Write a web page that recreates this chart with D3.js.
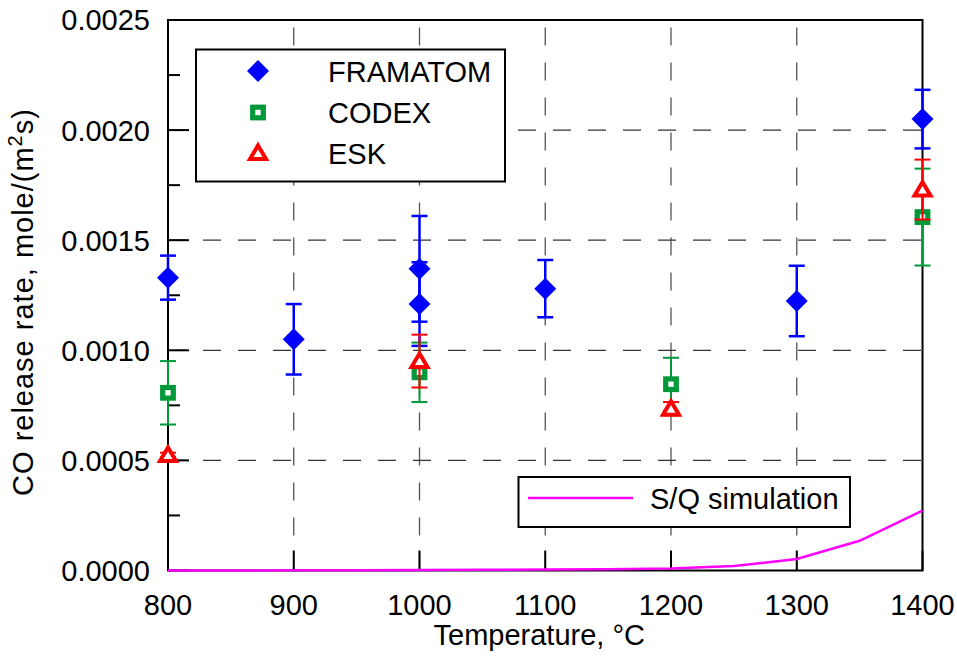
<!DOCTYPE html>
<html>
<head>
<meta charset="utf-8">
<script src="https://cdn.jsdelivr.net/npm/d3@7"></script>
<style>
  body { margin: 0; background: #fff; }
  text { font-family: "Liberation Sans", Arial, sans-serif; }
</style>
</head>
<body>
<div id="chart"></div>
<script>
// values
var xTicks = [800, 900, 1000, 1100, 1200, 1300, 1400];
var yTicks = [0, 0.0005, 0.0010, 0.0015, 0.0020, 0.0025];
var yMinor = [0.00025, 0.00075, 0.00125, 0.00175, 0.00225];

var framatomT = [800, 900, 1000, 1000, 1100, 1300, 1400];
var framatomVal = [0.00133, 0.00105, 0.00137, 0.00121, 0.00128, 0.001224, 0.00205];
var framatomErr = [0.0001, 0.00016, 0.00024, 0.00019, 0.00013, 0.00016, 0.000133];

var codexT = [800, 1000, 1200, 1400];
var codexVal = [0.000807, 0.0009, 0.000846, 0.001605];
var codexErr = [0.000144, 0.000135, 0.00012, 0.00022];

var eskT = [800, 1000, 1200, 1400];
var eskVal = [0.000525, 0.000951, 0.000735, 0.00173];
var eskErr = [0.00001, 0.00012, 0.00003, 0.000136];

var simT = [800, 850, 900, 950, 1000, 1050, 1100, 1150, 1200, 1250, 1300, 1350, 1400];
var simVal = [0, 0, 0.000001, 0.000001, 0.000002, 0.000003, 0.000004, 0.000006, 0.000009, 0.00002, 0.000052, 0.000135, 0.000272];

var W = 957, H = 658;
var pLeft = 168, pRight = 922.5, pTop = 20, pBottom = 570.5;

var svg = d3.select("#chart")
    .append("svg")
    .attr("width", W)
    .attr("height", H);

var x = d3.scaleLinear().domain([800, 1400]).range([pLeft, pRight]);
var y = d3.scaleLinear().domain([0, 0.0025]).range([pBottom, pTop]);

// dashed grid
svg.append("g")
    .selectAll("line")
    .data(xTicks.slice(1, -1))
    .enter()
    .append("line")
    .attr("x1", function (d) { return x(d); })
    .attr("x2", function (d) { return x(d); })
    .attr("y1", pBottom)
    .attr("y2", pTop)
    .attr("stroke", "#555")
    .attr("stroke-width", 1.3)
    .style("stroke-dasharray", "18,17");

svg.append("g")
    .selectAll("line")
    .data(yTicks.slice(1, -1))
    .enter()
    .append("line")
    .attr("x1", pLeft)
    .attr("x2", pRight)
    .attr("y1", function (d) { return y(d); })
    .attr("y2", function (d) { return y(d); })
    .attr("stroke", "#333")
    .attr("stroke-width", 1.3)
    .style("stroke-dasharray", "18,17");

// ticks pointing inward
svg.append("g")
    .selectAll("line")
    .data(yTicks)
    .enter()
    .append("line")
    .attr("x1", pLeft)
    .attr("x2", pLeft + 21)
    .attr("y1", function (d) { return y(d); })
    .attr("y2", function (d) { return y(d); })
    .attr("stroke", "#000")
    .attr("stroke-width", 2);

svg.append("g")
    .selectAll("line")
    .data(yMinor)
    .enter()
    .append("line")
    .attr("x1", pLeft)
    .attr("x2", pLeft + 12)
    .attr("y1", function (d) { return y(d); })
    .attr("y2", function (d) { return y(d); })
    .attr("stroke", "#000")
    .attr("stroke-width", 2);

svg.append("g")
    .selectAll("line")
    .data(xTicks)
    .enter()
    .append("line")
    .attr("x1", function (d) { return x(d); })
    .attr("x2", function (d) { return x(d); })
    .attr("y1", pBottom)
    .attr("y2", pBottom - 20)
    .attr("stroke", "#000")
    .attr("stroke-width", 2);

// frame
svg.append("rect")
    .attr("x", pLeft)
    .attr("y", pTop)
    .attr("width", pRight - pLeft)
    .attr("height", pBottom - pTop)
    .attr("fill", "none")
    .attr("stroke", "#000")
    .attr("stroke-width", 2);

// tick labels
svg.append("g")
    .selectAll("text")
    .data(yTicks)
    .enter()
    .append("text")
    .attr("x", 150)
    .attr("y", function (d) { return y(d); })
    .attr("dy", "0.36em")
    .attr("text-anchor", "end")
    .style("font-size", "29px")
    .text(function (d) { return d3.format(".4f")(d); });

svg.append("g")
    .selectAll("text")
    .data(xTicks)
    .enter()
    .append("text")
    .attr("x", function (d) { return x(d); })
    .attr("y", 615)
    .attr("text-anchor", "middle")
    .style("font-size", "29px")
    .text(function (d) { return d; });

// axis titles
svg.append("text")
    .attr("x", (pLeft + pRight) / 2 - 6)
    .attr("y", 645)
    .attr("text-anchor", "middle")
    .style("font-size", "29px")
    .text("Temperature, \u00B0C");

var ytitle = svg.append("text")
    .attr("transform", "translate(33,302) rotate(-90)")
    .attr("text-anchor", "middle")
    .style("font-size", "29px")
    .style("letter-spacing", "1px");
ytitle.append("tspan").text("CO release rate, mole/(m");
ytitle.append("tspan").attr("dy", -11).style("font-size", "20px").text("2");
ytitle.append("tspan").attr("dy", 11).text("s)");

// legend boxes (white, cover grid)
svg.append("rect")
    .attr("x", 196).attr("y", 49.5)
    .attr("width", 309).attr("height", 132)
    .attr("fill", "#fff").attr("stroke", "#000").attr("stroke-width", 2);

svg.append("rect")
    .attr("x", 518.5).attr("y", 477)
    .attr("width", 331.5).attr("height", 50)
    .attr("fill", "#fff").attr("stroke", "#000").attr("stroke-width", 2);

// marker helpers
function diamond(g, cx, cy) {
    g.append("path")
        .attr("d", "M" + cx + "," + (cy - 11) + "L" + (cx + 11) + "," + cy + "L" + cx + "," + (cy + 11) + "L" + (cx - 11) + "," + cy + "Z")
        .attr("fill", "#0000ff");
}
function square(g, cx, cy) {
    g.append("rect")
        .attr("x", cx - 5.3).attr("y", cy - 5.3)
        .attr("width", 10.6).attr("height", 10.6)
        .attr("fill", "#fff").attr("stroke", "#00993a").attr("stroke-width", 5.2);
}
function triangle(g, cx, cy) {
    g.append("path")
        .attr("d", "M" + cx + "," + (cy - 7.5) + "L" + (cx + 8) + "," + (cy + 6) + "L" + (cx - 8) + "," + (cy + 6) + "Z")
        .attr("fill", "#fff").attr("stroke", "#ff0000").attr("stroke-width", 4)
        .attr("stroke-linejoin", "miter");
}

function errorBars(ts, vals, errs, color, sw) {
    var g = svg.append("g")
        .attr("stroke", color)
        .attr("stroke-width", sw);
    g.selectAll(".v")
        .data(ts)
        .enter()
        .append("line")
        .attr("x1", function (d) { return x(d); })
        .attr("x2", function (d) { return x(d); })
        .attr("y1", function (d, i) { return y(vals[i] + errs[i]); })
        .attr("y2", function (d, i) { return y(vals[i] - errs[i]); });
    g.selectAll(".top")
        .data(ts)
        .enter()
        .append("line")
        .attr("x1", function (d) { return x(d) - 8; })
        .attr("x2", function (d) { return x(d) + 8; })
        .attr("y1", function (d, i) { return y(vals[i] + errs[i]); })
        .attr("y2", function (d, i) { return y(vals[i] + errs[i]); });
    g.selectAll(".bot")
        .data(ts)
        .enter()
        .append("line")
        .attr("x1", function (d) { return x(d) - 8; })
        .attr("x2", function (d) { return x(d) + 8; })
        .attr("y1", function (d, i) { return y(vals[i] - errs[i]); })
        .attr("y2", function (d, i) { return y(vals[i] - errs[i]); });
}

// FRAMATOM
errorBars(framatomT, framatomVal, framatomErr, "#0000ff", 2.5);
var gF = svg.append("g");
framatomT.forEach(function (t, i) { diamond(gF, x(t), y(framatomVal[i])); });

// CODEX
errorBars(codexT, codexVal, codexErr, "#00993a", 2);
var gC = svg.append("g");
codexT.forEach(function (t, i) { square(gC, x(t), y(codexVal[i])); });

// ESK
errorBars(eskT, eskVal, eskErr, "#ff0000", 2);
var gE = svg.append("g");
eskT.forEach(function (t, i) { triangle(gE, x(t), y(eskVal[i])); });

// S/Q simulation
var simLine = d3.line()
    .x(function (d, i) { return x(simT[i]); })
    .y(function (d) { return y(d); });

svg.append("path")
    .datum(simVal)
    .attr("d", simLine)
    .attr("fill", "none")
    .attr("stroke", "#ff00ff")
    .attr("stroke-width", 2.5);

// legend entries
var gL = svg.append("g");
diamond(gL, 258, 71);
square(gL, 258, 112.5);
triangle(gL, 258, 153);

var legendNames = ["FRAMATOM", "CODEX", "ESK"];
svg.append("g")
    .selectAll("text")
    .data(legendNames)
    .enter()
    .append("text")
    .attr("x", 328)
    .attr("y", function (d, i) { return 71 + i * 41 + 10.5; })
    .style("font-size", "29px")
    .text(function (d) { return d; });

svg.append("line")
    .attr("x1", 528).attr("x2", 633)
    .attr("y1", 498).attr("y2", 498)
    .attr("stroke", "#ff00ff").attr("stroke-width", 2.5);

svg.append("text")
    .attr("x", 650)
    .attr("y", 508.5)
    .style("font-size", "29px")
    .text("S/Q simulation");
</script>
</body>
</html>
